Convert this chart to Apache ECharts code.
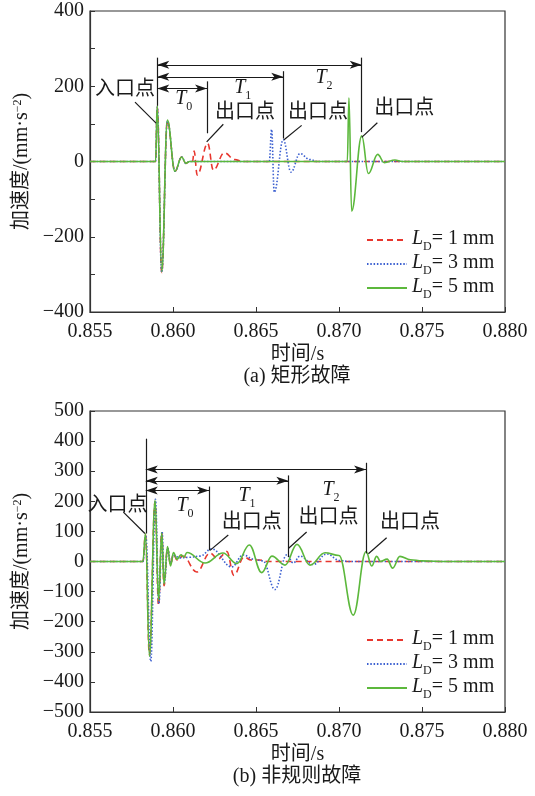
<!DOCTYPE html>
<html><head><meta charset="utf-8">
<script src="https://cdn.jsdelivr.net/npm/echarts@6/dist/echarts.min.js"></script>
<style>html,body{margin:0;padding:0;background:#fff}#c{width:535px;height:796px}</style>
</head><body><div id="c"></div>
<script>
// ---------- data ----------
const xMin = 0.855, xMax = 0.880, xStep = 0.005;
const seriesNames = ['LD1', 'LD3', 'LD5'];
const legendLabels = ['1 mm', '3 mm', '5 mm'];

// (a) rectangular fault
const a_t_LD1 = [0.855, 0.85895, 0.85905, 0.85932, 0.85966, 0.86012, 0.86052, 0.86078, 0.86100, 0.86118, 0.86127, 0.86146, 0.86209, 0.86243, 0.86309, 0.86373, 0.86420, 0.880];
const a_v_LD1 = [0, 0, 145, -295, 108, -26, 12, -5, 0, 0, 28, -36, 48, -23, 23, 5, 0, 0];
const a_t_LD3 = [0.855, 0.85895, 0.85905, 0.85932, 0.85966, 0.86012, 0.86052, 0.86078, 0.86100, 0.86580, 0.86594, 0.86610, 0.86664, 0.86711, 0.86765, 0.86825, 0.86870, 0.880];
const a_v_LD3 = [0, 0, 145, -295, 108, -26, 12, -5, 0, 0, 85, -82, 58, -28, 21, 5, 0, 0];
const a_t_LD5 = [0.855, 0.85895, 0.85905, 0.85932, 0.85966, 0.86012, 0.86052, 0.86078, 0.86100, 0.87050, 0.87060, 0.87076, 0.87137, 0.87177, 0.87233, 0.87273, 0.87337, 0.87380, 0.880];
const a_v_LD5 = [0, 0, 148, -293, 110, -26, 12, -5, 0, 0, 169, -132, 68, -32, 19, -3, 4, 0, 0];

// (b) irregular fault
const b_t_LD1 = [0.855, 0.85819, 0.85834, 0.85858, 0.85892, 0.85913, 0.85932, 0.85946, 0.85967, 0.85985, 0.86003, 0.86024, 0.86060, 0.86143, 0.86223, 0.86271, 0.86324, 0.86367, 0.86428, 0.86470, 0.86520, 0.86570, 0.880];
const b_v_LD1 = [0, 0, 90, -310, 198, -145, 95, -80, 45, -10, 25, 5, 18, -35, 28, 8, 33, -46, 15, 5, 5, 0, 0];
const b_t_LD3 = [0.855, 0.85819, 0.85836, 0.85866, 0.85894, 0.85915, 0.85934, 0.85948, 0.85968, 0.85985, 0.86003, 0.86042, 0.86100, 0.86163, 0.86233, 0.86354, 0.86423, 0.86484, 0.86542, 0.86614, 0.86685, 0.86725, 0.86765, 0.86845, 0.86926, 0.87006, 0.87060, 0.880];
const b_v_LD3 = [0, 0, 85, -332, 207, -140, 100, -70, 45, -5, 20, 12, 14, 18, 42, -18, 22, 8, 2, -93, 22, -5, 18, -10, 25, 3, 0, 0];
const b_t_LD5 = [0.855, 0.85819, 0.85834, 0.85858, 0.85892, 0.85913, 0.85932, 0.85946, 0.85967, 0.85985, 0.86003, 0.86024, 0.86048, 0.86066, 0.86084, 0.86193, 0.86301, 0.86384, 0.86460, 0.86534, 0.86596, 0.86675, 0.86747, 0.86825, 0.86916, 0.87000, 0.87086, 0.87163, 0.87197, 0.87227, 0.87250, 0.87290, 0.87323, 0.87367, 0.87430, 0.87500, 0.87650, 0.880];
const b_v_LD5 = [0, 0, 93, -315, 203, -130, 95, -75, 50, -15, 30, 8, 22, 15, 30, -5, 28, -7, 55, -37, 18, -12, 57, -12, 29, 20, -178, 33, -15, 17, 0, 8, -22, 17, 6, 2, 0, 0];

// annotation anchors (data coordinates)
const a_entry = [0.85905, 276, 148];
const a_exits = [[0.86205, 213, 75, 194], [0.86664, 240, 61, 225], [0.87137, 276, 78, 257]];
const a_texts = [['入口点', 0.85711, 189], ['T0', 0.86065, 163], ['T1', 0.86420, 193], ['T2', 0.86910, 221],
                 ['出口点', 0.86434, 128], ['出口点', 0.86873, 128], ['出口点', 0.87393, 138]];
const a_leaders = [[0.85771, 158, 0.85898, 102], [0.86303, 99, 0.86203, 52], [0.86775, 96, 0.86669, 58], [0.87231, 103, 0.87137, 64]];

const b_entry = [0.85836, 408, 93];
const b_exits = [[0.86217, 249, 37, 236], [0.86695, 286, 15, 268], [0.87163, 328, 27, 306]];
const b_texts = [['入口点', 0.85666, 181], ['T0', 0.86072, 181], ['T1', 0.86446, 214], ['T2', 0.86952, 236],
                 ['出口点', 0.86474, 126], ['出口点', 0.86936, 142], ['出口点', 0.87428, 124]];
const b_leaders = [[0.85701, 164, 0.85831, 93], [0.86333, 88, 0.86223, 37], [0.86805, 98, 0.86695, 43], [0.87287, 79, 0.87177, 26]];

// ---------- styling ----------
const SERIF = '"Liberation Serif","Times New Roman","Noto Sans CJK SC",serif';
const INK = '#1a1a1a';
const AX = '#333';
const colors = {LD1: '#e8362e', LD3: '#3b5fd0', LD5: '#5cb83c'};
const dash = {LD1: [6, 4], LD3: [1.5, 1.8], LD5: 'solid'};

function zip(t, v) { return t.map((x, i) => [x, v[i]]); }
function fmtNum(v) { return v < 0 ? '\u2212' + Math.abs(v) : String(v); }

function lineSeries(name, t, v, gi) {
  return {
    type: 'line', name, xAxisIndex: gi, yAxisIndex: gi, data: zip(t, v),
    symbol: 'none', showSymbol: false, smooth: 0.4, smoothMonotone: 'x',
    lineStyle: {color: colors[name], width: 1.6, type: dash[name]},
    itemStyle: {color: colors[name]}, animation: false, silent: true
  };
}

const subRich = {
  t: {fontFamily: SERIF, fontStyle: 'italic', fontSize: 20, lineHeight: 22, verticalAlign: 'top', color: INK},
  s: {fontFamily: SERIF, fontSize: 12, lineHeight: 12, padding: [12, 0, 0, 0], verticalAlign: 'top', color: INK},
  c: {fontFamily: SERIF, fontSize: 20, lineHeight: 22, verticalAlign: 'top', color: INK}
};

function annotSeries(gi, entry, exits, texts, leaders) {
  const ml = [];
  ml.push([{coord: [entry[0], entry[1]], symbol: 'none'}, {coord: [entry[0], entry[2]], symbol: 'none'}]);
  exits.forEach(e => {
    ml.push([{coord: [e[0], e[1]], symbol: 'none'}, {coord: [e[0], e[2]], symbol: 'none'}]);
    ml.push([{coord: [entry[0], e[3]], symbol: 'arrow'}, {coord: [e[0], e[3]], symbol: 'arrow'}]);
  });
  leaders.forEach(l => {
    ml.push([{coord: [l[0], l[1]], symbol: 'none'}, {coord: [l[2], l[3]], symbol: 'none'}]);
  });
  const mp = texts.map(tx => {
    const s = tx[0];
    const f = s.charAt(0) === 'T' ? '{t|T}{s|' + s.slice(1) + '}' : '{c|' + s + '}';
    return {coord: [tx[1], tx[2]], label: {formatter: f}};
  });
  return {
    type: 'line', name: 'annot' + gi, xAxisIndex: gi, yAxisIndex: gi, data: [],
    symbol: 'none', silent: true, animation: false, z: 5,
    markLine: {
      silent: true, animation: false, symbol: ['none', 'none'], symbolSize: [6, 12],
      lineStyle: {color: INK, width: 1.2, type: 'solid'},
      itemStyle: {color: INK},
      label: {show: false}, emphasis: {disabled: true},
      data: ml
    },
    markPoint: {
      silent: true, animation: false, symbol: 'circle', symbolSize: 0,
      itemStyle: {color: 'transparent'},
      label: {show: true, position: 'inside', color: INK, fontFamily: SERIF, fontSize: 20, rich: subRich},
      data: mp
    }
  };
}

function xAxis(gi) {
  return {
    type: 'value', gridIndex: gi, min: xMin, max: xMax, interval: xStep,
    name: '时间/s', nameLocation: 'middle', nameGap: 33,
    nameTextStyle: {fontFamily: SERIF, fontSize: 20, color: INK},
    axisLine: {show: true, onZero: false, lineStyle: {color: AX, width: 1.2}},
    axisTick: {show: true, inside: true, length: 5, lineStyle: {color: AX, width: 1}},
    axisLabel: {margin: 10, fontFamily: SERIF, fontSize: 20, color: INK, formatter: v => v.toFixed(3)},
    splitLine: {show: false}
  };
}
function yAxis(gi, lim, labelEvery) {
  return {
    type: 'value', gridIndex: gi, min: -lim, max: lim, interval: 100,
    name: '加速度/(mm·s{sup|\u22122})', nameLocation: 'middle', nameGap: 56, nameRotate: 90,
    nameTextStyle: {fontFamily: SERIF, fontSize: 20, color: INK,
      rich: {sup: {fontFamily: SERIF, fontSize: 12, lineHeight: 12, verticalAlign: 'top', color: INK}}},
    axisLine: {show: true, lineStyle: {color: AX, width: 1.2}},
    axisTick: {show: true, inside: true, length: 5, lineStyle: {color: AX, width: 1}},
    axisLabel: {margin: 6, fontFamily: SERIF, fontSize: 20, color: INK,
      formatter: v => (Math.round(v) % labelEvery === 0 ? fmtNum(Math.round(v)) : '')},
    splitLine: {show: false}
  };
}

const legendRich = {
  i: {fontFamily: SERIF, fontStyle: 'italic', fontSize: 20, lineHeight: 22, verticalAlign: 'top', color: INK},
  s: {fontFamily: SERIF, fontSize: 12, lineHeight: 12, padding: [12, 0, 0, 0], verticalAlign: 'top', color: INK},
  n: {fontFamily: SERIF, fontSize: 20, lineHeight: 22, verticalAlign: 'top', color: INK}
};
function legend(top) {
  return {
    data: seriesNames, orient: 'vertical', left: 361, top, itemWidth: 40, itemHeight: 14, itemGap: 0,
    selectedMode: false,
    itemStyle: {color: 'transparent', borderColor: 'transparent', borderWidth: 0, opacity: 0},
    formatter: n => '{i|L}{s|D}{n|= ' + legendLabels[seriesNames.indexOf(n)] + '}',
    textStyle: {fontFamily: SERIF, fontSize: 20, color: INK, rich: legendRich}
  };
}

const chart = echarts.init(document.getElementById('c'), null, {renderer: 'canvas'});
chart.setOption({
  animation: false,
  backgroundColor: '#fff',
  title: [
    {text: '(a) 矩形故障', left: 297, top: 367, textAlign: 'center', padding: 0,
     textStyle: {fontFamily: SERIF, fontSize: 20, fontWeight: 'normal', color: INK}},
    {text: '(b) 非规则故障', left: 297, top: 767, textAlign: 'center', padding: 0,
     textStyle: {fontFamily: SERIF, fontSize: 20, fontWeight: 'normal', color: INK}}
  ],
  grid: [
    {left: 90, top: 11, width: 415, height: 301, show: true, borderColor: AX, borderWidth: 1.2, backgroundColor: 'transparent'},
    {left: 90, top: 411, width: 415, height: 301, show: true, borderColor: AX, borderWidth: 1.2, backgroundColor: 'transparent'}
  ],
  xAxis: [xAxis(0), xAxis(1)],
  yAxis: [yAxis(0, 400, 200), yAxis(1, 500, 100)],
  legend: [legend(224), legend(624)],
  series: [
    lineSeries('LD1', a_t_LD1, a_v_LD1, 0),
    lineSeries('LD3', a_t_LD3, a_v_LD3, 0),
    lineSeries('LD5', a_t_LD5, a_v_LD5, 0),
    lineSeries('LD1', b_t_LD1, b_v_LD1, 1),
    lineSeries('LD3', b_t_LD3, b_v_LD3, 1),
    lineSeries('LD5', b_t_LD5, b_v_LD5, 1),
    annotSeries(0, a_entry, a_exits, a_texts, a_leaders),
    annotSeries(1, b_entry, b_exits, b_texts, b_leaders)
  ]
});
</script></body></html>
